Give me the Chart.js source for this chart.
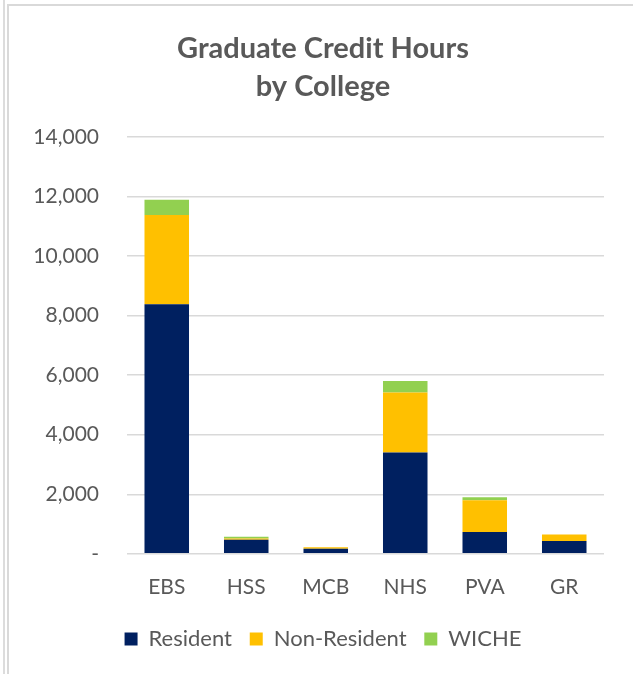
<!DOCTYPE html>
<html>
<head>
<meta charset="utf-8">
<script src="https://cdn.jsdelivr.net/npm/chart.js@4"></script>
<style>
  html, body { margin: 0; padding: 0; background: #fff; }
  body { width: 633px; height: 674px; position: relative; overflow: hidden; }
  .edge { position: absolute; left: 3px; top: 0; width: 2px; height: 674px; background: #dcdcdc; }
  .frame { position: absolute; left: 7px; top: 4px; width: 624px; height: 670px;
           border-left: 2px solid #d9d9d9; border-top: 2px solid #d9d9d9; border-right: 1px solid #d9d9d9; }
  #cht { position: absolute; left: 9px; top: 6px; }
</style>
</head>
<body>
<div class="edge"></div>
<div class="frame"></div>
<canvas id="cht" width="622" height="668"></canvas>
<script>
const colleges = ["EBS", "HSS", "MCB", "NHS", "PVA", "GR"];
const resident = [8380, 470, 170, 3400, 730, 430];
const nonResident = [3000, 40, 50, 2020, 1070, 220];
const wiche = [510, 60, 0, 380, 100, 0];
const seriesNames = ["Resident", "Non-Resident", "WICHE"];
const barColors = ["#002060", "#FFC000", "#92D050"];

const textGray = "#595959";
const fontName = "Lato, 'Open Sans', sans-serif";

var ch = new Chart("cht", {
    type: "bar",
    data: {
        labels: colleges,
        datasets: [resident, nonResident, wiche].map(function (vals, i) {
            return {
                label: seriesNames[i],
                data: vals,
                backgroundColor: barColors[i],
                borderWidth: 0,
                barPercentage: 1,
                categoryPercentage: 0.56
            };
        })
    },
    options: {
        responsive: false,
        animation: false,
        layout: { padding: { left: 6, right: 0, top: 0, bottom: 14 } },
        plugins: {
            title: {
                display: true,
                text: ["Graduate Credit Hours", "by College"],
                color: textGray,
                font: { family: fontName, size: 29, weight: "bold", lineHeight: 1.31 },
                padding: { top: 24, bottom: 31 }
            },
            legend: {
                position: "bottom",
                labels: {
                    color: textGray,
                    font: { family: fontName, size: 22 },
                    boxWidth: 13,
                    boxHeight: 13,
                    padding: 15,
                    // a bit more room between entries, like the original
                    generateLabels: function (chart) {
                        const items = Chart.defaults.plugins.legend.labels.generateLabels(chart);
                        items.forEach(function (it, i) {
                            if (i < items.length - 1) it.text += "\u2009";
                        });
                        return items;
                    }
                }
            },
            tooltip: { enabled: false }
        },
        scales: {
            x: {
                stacked: true,
                grid: { display: false },
                border: { display: false },
                ticks: { color: textGray, font: { family: fontName, size: 21 }, padding: 13 }
            },
            y: {
                stacked: true,
                min: 0,
                max: 14000,
                afterFit: function (scale) { scale.width = 112; },
                grid: { color: "#d9d9d9", lineWidth: 1.5, drawTicks: false },
                border: { display: false },
                ticks: {
                    stepSize: 2000,
                    color: textGray,
                    padding: 28,
                    font: { family: fontName, size: 21 },
                    callback: function (v) { return v === 0 ? "-" : v.toLocaleString("en-US"); }
                }
            },
            // empty right-hand axis, only to leave the margin on the right
            yRight: {
                position: "right",
                afterFit: function (scale) { scale.width = 27; },
                grid: { display: false, drawTicks: false },
                border: { display: false },
                ticks: { display: false }
            }
        }
    }
});
</script>
</body>
</html>
